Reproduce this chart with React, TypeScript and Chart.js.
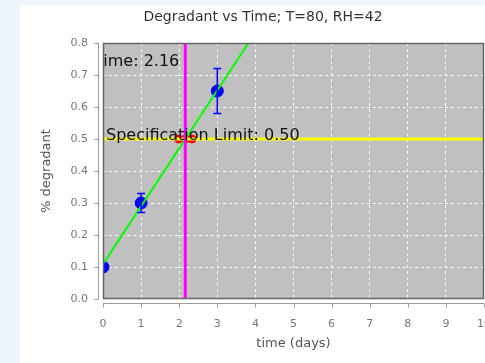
import React, { useEffect, useRef } from "react";
import { Chart, registerables } from "chart.js";

Chart.register(...registerables);

const timeDays = [0, 1, 3];
const degradant = [0.1, 0.3, 0.65];
const errorHalf = [0.01, 0.03, 0.07];
const fitX = [0, 10];
const fitY = [0.109, 1.919];
const crossTime = 2.16;
const specLimit = 0.5;
const redX = [1.98, 2.16, 2.34];
const redY = [0.5, 0.5, 0.5];
const xTicksMax = 10;
const yTicksMax = 0.8;
const titleText = "Degradant vs Time; T=80, RH=42";
const xTitle = "time (days)";
const yTitle = "% degradant";
const timeLabel = "Time: 2.16";
const specLabel = "Specification Limit: 0.50";

const FONT = "'DejaVu Sans', sans-serif";

export default function App() {
  const ref = useRef<HTMLCanvasElement>(null);
  useEffect(() => {
    document.body.style.margin = "0";
    const ctx = ref.current!.getContext("2d")!;
    const plugin = {
      id: "custom",
      beforeDraw(chart: any) {
        const { ctx, chartArea: a } = chart;
        ctx.save();
        ctx.fillStyle = "#c0c0c0";
        ctx.fillRect(a.left, a.top, a.right - a.left, a.bottom - a.top);
        ctx.restore();
      },
      afterDatasetsDraw(chart: any) {
        const { ctx, chartArea: a, scales } = chart;
        const xs = scales.x, ys = scales.y;
        ctx.save();
        ctx.beginPath();
        ctx.rect(a.left, a.top, a.right - a.left, a.bottom - a.top);
        ctx.clip();
        // error bars
        ctx.strokeStyle = "#0000ff";
        ctx.lineWidth = 1.5;
        timeDays.forEach((t, i) => {
          const px = xs.getPixelForValue(t);
          const y1 = ys.getPixelForValue(degradant[i] + errorHalf[i]);
          const y2 = ys.getPixelForValue(degradant[i] - errorHalf[i]);
          ctx.beginPath();
          ctx.moveTo(px, y1);
          ctx.lineTo(px, y2);
          ctx.moveTo(px - 4, y1);
          ctx.lineTo(px + 4, y1);
          ctx.moveTo(px - 4, y2);
          ctx.lineTo(px + 4, y2);
          ctx.stroke();
        });
        // annotations
        ctx.fillStyle = "#111";
        ctx.font = `16px ${FONT}`;
        ctx.textBaseline = "alphabetic";
        ctx.textAlign = "right";
        ctx.fillText(timeLabel, xs.getPixelForValue(crossTime) - 6, a.top + 23);
        ctx.textAlign = "left";
        ctx.fillText(specLabel, a.left + 3, ys.getPixelForValue(specLimit) + 1);
        ctx.restore();

        ctx.save();
        // plot border
        ctx.strokeStyle = "#666";
        ctx.lineWidth = 1.5;
        ctx.strokeRect(a.left + 0.5, a.top + 0.5, a.right - a.left - 1, a.bottom - a.top - 1);
        // axis lines
        ctx.strokeStyle = "#999";
        ctx.lineWidth = 1;
        ctx.beginPath();
        const ax = a.left - 4.5;
        ctx.moveTo(ax, a.top);
        ctx.lineTo(ax, a.bottom);
        ys.ticks.forEach((t: any) => {
          const py = Math.round(ys.getPixelForValue(t.value)) + 0.5;
          ctx.moveTo(ax, py);
          ctx.lineTo(ax - 4, py);
        });
        const ay = a.bottom + 4.5;
        ctx.moveTo(a.left, ay);
        ctx.lineTo(a.right, ay);
        xs.ticks.forEach((t: any) => {
          const px = Math.round(xs.getPixelForValue(t.value)) + 0.5;
          ctx.moveTo(px, ay);
          ctx.lineTo(px, ay + 4);
        });
        ctx.stroke();
        // titles
        ctx.fillStyle = "#333";
        ctx.font = `14px ${FONT}`;
        ctx.textAlign = "center";
        ctx.textBaseline = "middle";
        ctx.fillText(titleText, 243, 12);
        ctx.fillStyle = "#555";
        ctx.font = `13px ${FONT}`;
        ctx.fillText(xTitle, (a.left + a.right) / 2, 339);
        ctx.translate(27, (a.top + a.bottom) / 2);
        ctx.rotate(-Math.PI / 2);
        ctx.fillText(yTitle, 0, 0);
        ctx.restore();
      },
    };
    const chart = new Chart(ctx, {
      type: "scatter",
      data: {
        datasets: [
          {
            type: "line",
            data: [
              { x: crossTime, y: 0 },
              { x: crossTime, y: yTicksMax },
            ],
            borderColor: "#ff00ff",
            borderWidth: 3,
            pointRadius: 0,
          },
          {
            type: "line",
            data: [
              { x: 0, y: specLimit },
              { x: xTicksMax, y: specLimit },
            ],
            borderColor: "#ffff00",
            borderWidth: 3,
            pointRadius: 0,
          },
          {
            type: "line",
            data: fitX.map((x, i) => ({ x, y: fitY[i] })),
            borderColor: "#00ff00",
            borderWidth: 2,
            pointRadius: 0,
          },
          {
            data: redX.map((x, i) => ({ x, y: redY[i] })),
            backgroundColor: "#ff0000",
            borderColor: "#ff0000",
            pointRadius: 4,
          },
          {
            data: timeDays.map((x, i) => ({ x, y: degradant[i] })),
            backgroundColor: "#0000ff",
            borderColor: "#0000ff",
            pointRadius: 6,
          },
        ],
      },
      options: {
        animation: false,
        responsive: false,
        devicePixelRatio: 1,
        layout: { padding: { left: 0, right: 0, top: 38, bottom: 0 } },
        plugins: { legend: { display: false }, tooltip: { enabled: false }, title: { display: false } },
        scales: {
          x: {
            type: "linear",
            min: 0,
            max: xTicksMax,
            ticks: { stepSize: 1, color: "#777", font: { family: FONT, size: 11 }, padding: 19 },
            grid: { color: "rgba(255,255,255,0.9)", drawTicks: false },
            border: { display: false, dash: [3, 3] },
            afterFit(s: any) {
              s.height = 64;
              s.paddingLeft = 0;
              s.paddingRight = 0;
            },
          },
          y: {
            type: "linear",
            min: 0,
            max: yTicksMax,
            ticks: {
              stepSize: 0.1,
              color: "#777",
              font: { family: FONT, size: 11 },
              padding: 15,
              callback: (v: any) => Number(v).toFixed(1),
            },
            grid: { color: "rgba(255,255,255,0.9)", drawTicks: false },
            border: { display: false, dash: [3, 3] },
            afterFit(s: any) {
              s.width = 83;
              s.paddingTop = 0;
              s.paddingBottom = 0;
            },
          },
        },
      },
      plugins: [plugin],
    } as any);
    return () => chart.destroy();
  }, []);
  return (
    <div style={{ position: "absolute", left: 0, top: 0, width: 485, height: 363, background: "#eef5fd", overflow: "hidden" }}>
      <div style={{ position: "absolute", left: 20, top: 5, width: 465, height: 358, background: "#fff", overflow: "hidden" }}>
        <canvas ref={ref} width={471} height={358} style={{ display: "block", width: 471, height: 358 }} />
      </div>
    </div>
  );
}
